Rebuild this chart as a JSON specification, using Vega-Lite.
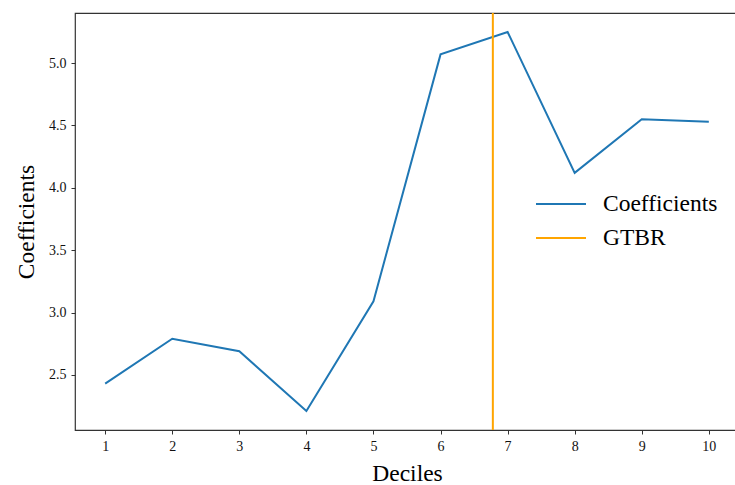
{
  "$schema": "https://vega.github.io/schema/vega-lite/v6.json",
  "autosize": "none",
  "width": 664,
  "height": 417,
  "padding": {"left": 75, "top": 13, "right": 0, "bottom": 55},
  "background": "white",
  "config": {
    "font": "Liberation Serif",
    "view": {"stroke": "#333333", "strokeWidth": 1.2},
    "axis": {
      "grid": false,
      "domain": false,
      "tickColor": "#333333",
      "tickSize": 4,
      "labelFont": "Liberation Serif",
      "labelFontSize": 14,
      "labelColor": "#111111",
      "labelPadding": 5,
      "titleFont": "Liberation Serif",
      "titleFontSize": 23.5,
      "titleFontWeight": "normal",
      "titleColor": "#000000"
    }
  },
  "layer": [
    {
      "data": {
        "values": [
          {"decile": 1, "coef": 2.43, "series": "Coefficients"},
          {"decile": 2, "coef": 2.79, "series": "Coefficients"},
          {"decile": 3, "coef": 2.69, "series": "Coefficients"},
          {"decile": 4, "coef": 2.21, "series": "Coefficients"},
          {"decile": 5, "coef": 3.09, "series": "Coefficients"},
          {"decile": 6, "coef": 5.07, "series": "Coefficients"},
          {"decile": 7, "coef": 5.25, "series": "Coefficients"},
          {"decile": 8, "coef": 4.12, "series": "Coefficients"},
          {"decile": 9, "coef": 4.55, "series": "Coefficients"},
          {"decile": 10, "coef": 4.53, "series": "Coefficients"}
        ]
      },
      "mark": {"type": "line", "strokeWidth": 2},
      "encoding": {
        "x": {
          "field": "decile",
          "type": "quantitative",
          "scale": {"domain": [0.55, 10.45], "nice": false, "zero": false},
          "axis": {"values": [1, 2, 3, 4, 5, 6, 7, 8, 9, 10], "format": "d", "title": "Deciles", "titlePadding": 8}
        },
        "y": {
          "field": "coef",
          "type": "quantitative",
          "scale": {"domain": [2.058, 5.402], "nice": false, "zero": false},
          "axis": {"values": [2.5, 3.0, 3.5, 4.0, 4.5, 5.0], "format": ".1f", "title": "Coefficients", "titlePadding": 10}
        },
        "color": {
          "field": "series",
          "type": "nominal",
          "scale": {"domain": ["Coefficients", "GTBR"], "range": ["#1f77b4", "#ffa500"]},
          "legend": {
            "title": null,
            "orient": "none",
            "legendX": 460,
            "legendY": 176,
            "symbolType": "stroke",
            "symbolSize": 2500,
            "symbolStrokeWidth": 2,
            "labelFont": "Liberation Serif",
            "labelFontSize": 23.5,
            "labelColor": "#000000",
            "labelOffset": 16,
            "clipHeight": 30,
            "rowPadding": 4
          }
        }
      }
    },
    {
      "data": {"values": [{"gtbr": 6.78, "series": "GTBR"}]},
      "mark": {"type": "rule", "strokeWidth": 2},
      "encoding": {
        "x": {"field": "gtbr", "type": "quantitative"},
        "color": {"field": "series", "type": "nominal"}
      }
    }
  ]
}
